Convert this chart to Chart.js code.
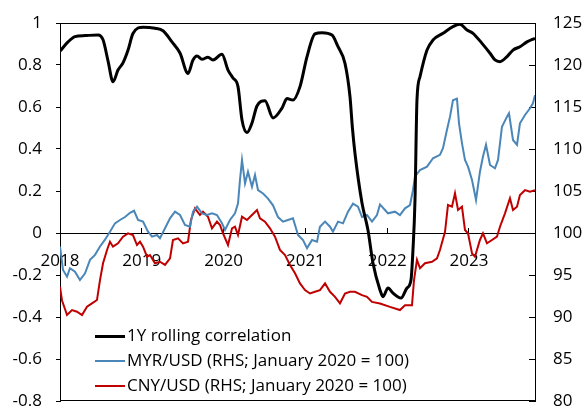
<!DOCTYPE html>
<html>
<head>
<meta charset="utf-8">
<script src="https://cdn.jsdelivr.net/npm/chart.js@4.4.1/dist/chart.umd.min.js"></script>
<style>
    body { margin: 0; background: #fff; }
    #wrap { position: relative; width: 582px; height: 410px; }
    #legend { position: absolute; left: 95px; top: 322px; font-family: "Open Sans", sans-serif; font-size: 17px; color: #000; }
    #legend div { height: 25px; line-height: 25px; white-space: nowrap; }
    #legend span.sw { display: inline-block; width: 30px; vertical-align: middle; margin-right: 2px; }
</style>
</head>
<body>
<div id="wrap">
    <canvas id="FxChart" width="582" height="410"></canvas>
    <div id="legend"></div>
</div>
<script>
// x values are decimal years
const corrDates = [2018.000, 2018.098, 2018.183, 2018.306, 2018.465, 2018.526, 2018.587, 2018.648, 2018.709, 2018.770,
    2018.831, 2018.892, 2019.015, 2019.161, 2019.259, 2019.369, 2019.467, 2019.565, 2019.626, 2019.675,
    2019.736, 2019.809, 2019.870, 2019.980, 2020.054, 2020.115, 2020.176, 2020.225, 2020.286, 2020.347,
    2020.408, 2020.506, 2020.604, 2020.714, 2020.775, 2020.848, 2020.934, 2021.020, 2021.117, 2021.203,
    2021.325, 2021.399, 2021.484, 2021.545, 2021.575, 2021.606, 2021.692, 2021.765, 2021.826, 2021.912,
    2021.949, 2022.010, 2022.071, 2022.169, 2022.242, 2022.291, 2022.315, 2022.340, 2022.364, 2022.401,
    2022.487, 2022.560, 2022.682, 2022.804, 2022.890, 2022.976, 2023.049, 2023.159, 2023.257, 2023.318,
    2023.379, 2023.465, 2023.538, 2023.623, 2023.709, 2023.807];
const corrValues = [0.866, 0.91, 0.935, 0.94, 0.943, 0.92, 0.82, 0.72, 0.776, 0.81,
    0.87, 0.95, 0.98, 0.975, 0.963, 0.91, 0.857, 0.76, 0.824, 0.843,
    0.827, 0.837, 0.824, 0.851, 0.776, 0.738, 0.697, 0.538, 0.478, 0.524,
    0.605, 0.63, 0.548, 0.595, 0.64, 0.633, 0.697, 0.84, 0.948, 0.954,
    0.943, 0.887, 0.808, 0.65, 0.50, 0.38, 0.143, 0.014, -0.143, -0.271,
    -0.303, -0.262, -0.286, -0.31, -0.262, -0.224, -0.081, 0.157, 0.633, 0.744,
    0.871, 0.919, 0.951, 0.983, 0.994, 0.967, 0.951, 0.903, 0.856, 0.824,
    0.816, 0.84, 0.871, 0.887, 0.91, 0.927];

const myrDates = [2018.000, 2018.037, 2018.086, 2018.122, 2018.183, 2018.244, 2018.306, 2018.367, 2018.428, 2018.489,
    2018.550, 2018.611, 2018.672, 2018.733, 2018.795, 2018.856, 2018.905, 2018.954, 2019.015, 2019.076,
    2019.125, 2019.186, 2019.222, 2019.284, 2019.345, 2019.406, 2019.467, 2019.528, 2019.589, 2019.626,
    2019.675, 2019.736, 2019.797, 2019.858, 2019.919, 2019.980, 2020.017, 2020.078, 2020.139, 2020.176,
    2020.200, 2020.225, 2020.262, 2020.298, 2020.347, 2020.384, 2020.421, 2020.482, 2020.543, 2020.604,
    2020.665, 2020.726, 2020.787, 2020.848, 2020.910, 2020.971, 2021.020, 2021.081, 2021.142, 2021.178,
    2021.240, 2021.301, 2021.337, 2021.399, 2021.460, 2021.521, 2021.582, 2021.643, 2021.692, 2021.753,
    2021.814, 2021.875, 2021.912, 2021.973, 2022.010, 2022.095, 2022.156, 2022.218, 2022.279, 2022.315,
    2022.340, 2022.401, 2022.487, 2022.560, 2022.645, 2022.682, 2022.731, 2022.768, 2022.804, 2022.853,
    2022.878, 2022.914, 2022.951, 2022.988, 2023.037, 2023.086, 2023.134, 2023.171, 2023.208, 2023.257,
    2023.318, 2023.355, 2023.403, 2023.465, 2023.489, 2023.538, 2023.587, 2023.623, 2023.685, 2023.746,
    2023.782, 2023.807];
const myrValues = [98.4, 95.6, 94.8, 95.8, 95.4, 94.4, 95.2, 96.8, 97.4, 98.4,
    99.2, 100.15, 101.15, 101.55, 101.9, 102.4, 102.65, 101.55, 101.35, 100.15,
    99.56, 99.76, 99.37, 100.56, 101.75, 102.54, 102.14, 100.95, 100.75, 102.54,
    103.13, 102.34, 102.14, 102.34, 102.14, 101.15, 100.36, 101.55, 102.34, 103.5,
    106.3, 108.7, 105.9, 107.3, 105.5, 106.9, 105.1, 104.7, 104.1, 103.3,
    101.9, 101.35, 101.55, 101.75, 99.76, 99.17, 98.2, 99.17, 98.96, 100.75,
    101.35, 100.75, 100.15, 101.35, 101.15, 102.54, 103.5, 103.13, 101.9, 102.14,
    101.35, 102.14, 103.4, 102.74, 102.34, 102.54, 102.14, 102.94, 103.33, 105.1,
    106.7, 107.5, 107.9, 108.9, 109.3, 110.1, 112.3, 113.85, 115.8, 116.0,
    113.06, 110.7, 108.7, 107.9, 106.3, 103.93, 107.3, 109.1, 110.5, 108.1,
    107.7, 108.7, 112.65, 113.85, 114.25, 111.07, 110.5, 113.06, 114.05, 114.85,
    115.44, 116.4];

const cnyDates = [2018.000, 2018.024, 2018.086, 2018.147, 2018.208, 2018.269, 2018.330, 2018.391, 2018.452, 2018.489,
    2018.526, 2018.575, 2018.611, 2018.648, 2018.709, 2018.770, 2018.831, 2018.892, 2018.941, 2018.978,
    2019.015, 2019.064, 2019.100, 2019.161, 2019.222, 2019.284, 2019.345, 2019.381, 2019.443, 2019.504,
    2019.565, 2019.601, 2019.650, 2019.711, 2019.748, 2019.809, 2019.858, 2019.919, 2019.956, 2019.993,
    2020.054, 2020.103, 2020.139, 2020.176, 2020.225, 2020.286, 2020.347, 2020.408, 2020.445, 2020.506,
    2020.567, 2020.628, 2020.689, 2020.751, 2020.812, 2020.873, 2020.934, 2020.995, 2021.056, 2021.117,
    2021.178, 2021.240, 2021.301, 2021.362, 2021.423, 2021.484, 2021.545, 2021.606, 2021.692, 2021.753,
    2021.814, 2021.912, 2022.034, 2022.156, 2022.218, 2022.303, 2022.328, 2022.364, 2022.401, 2022.462,
    2022.548, 2022.609, 2022.645, 2022.707, 2022.743, 2022.792, 2022.829, 2022.866, 2022.914, 2022.951,
    2022.988, 2023.037, 2023.073, 2023.134, 2023.171, 2023.220, 2023.281, 2023.342, 2023.379, 2023.440,
    2023.501, 2023.538, 2023.587, 2023.623, 2023.685, 2023.746, 2023.807];
const cnyValues = [93.6, 92.0, 90.24, 90.83, 90.63, 90.24, 91.23, 91.63, 92.02, 94.4,
    96.4, 97.98, 98.96, 98.37, 98.77, 99.56, 99.96, 99.76, 98.57, 98.96,
    98.37, 97.18, 97.38, 96.4, 96.58, 96.2, 96.98, 99.17, 99.37, 98.77,
    98.96, 101.55, 102.94, 102.14, 102.54, 101.94, 100.56, 101.35, 100.95, 99.96,
    98.57, 100.56, 100.75, 99.76, 101.94, 101.55, 102.14, 102.74, 101.75, 101.35,
    100.56, 99.56, 97.98, 97.38, 96.2, 95.2, 94.0, 93.2, 92.8, 93.0,
    93.2, 94.0, 93.0, 92.4, 91.63, 92.8, 93.0, 93.0, 92.6, 92.4,
    91.8, 91.6, 91.2, 90.83, 91.4, 91.4, 94.4, 96.8, 95.8, 96.4,
    96.58, 96.98, 97.98, 100.15, 103.33, 103.13, 104.73, 102.74, 103.13, 100.36,
    99.96, 97.58, 97.18, 99.17, 99.96, 98.77, 99.17, 99.56, 100.75, 102.34,
    104.13, 102.74, 103.13, 104.52, 105.1, 104.92, 105.1];

const yearTicks = [2018, 2019, 2020, 2021, 2022, 2023];

function toPoints(xs, ys) {
    return xs.map((x, i) => ({ x: x, y: ys[i] }));
}

const FONT = { family: "'Open Sans', sans-serif", size: 17 };

// fixed axis width, and no extra top/bottom padding from the tick labels
function fixWidth(w) {
    return (s) => {
        s.width = w;
        s.paddingTop = 0;
        s.paddingBottom = 0;
    };
}

// thin frame round the plot area (top and bottom edges)
const framePlugin = {
    id: "frame",
    afterDraw(chart) {
        const { ctx, chartArea: a } = chart;
        ctx.save();
        ctx.strokeStyle = "#000";
        ctx.lineWidth = 1;
        ctx.beginPath();
        ctx.moveTo(a.left, a.top + 0.5);
        ctx.lineTo(a.right, a.top + 0.5);
        ctx.moveTo(a.left, a.bottom - 0.5);
        ctx.lineTo(a.right, a.bottom - 0.5);
        ctx.stroke();
        ctx.restore();
    },
};

function FxChart() {
    const ctx = document.getElementById("FxChart");

    const chart = new Chart(ctx, {
        type: "line",
        data: {
            datasets: [
                {
                    label: "1Y rolling correlation",
                    data: toPoints(corrDates, corrValues),
                    borderColor: "#000000",
                    borderWidth: 3,
                    cubicInterpolationMode: "monotone",
                    pointRadius: 0,
                    yAxisID: "y",
                },
                {
                    label: "MYR/USD (RHS; January 2020 = 100)",
                    data: toPoints(myrDates, myrValues),
                    borderColor: "#4a86b8",
                    borderWidth: 2,
                    lineTension: 0,
                    pointRadius: 0,
                    yAxisID: "y1",
                },
                {
                    label: "CNY/USD (RHS; January 2020 = 100)",
                    data: toPoints(cnyDates, cnyValues),
                    borderColor: "#c00000",
                    borderWidth: 2,
                    lineTension: 0,
                    pointRadius: 0,
                    yAxisID: "y1",
                },
            ],
        },
        options: {
            responsive: false,
            animation: false,
            layout: {
                padding: { top: 23, bottom: 9, left: 0, right: 0 },
            },
            plugins: {
                legend: { display: false },
                tooltip: { enabled: false },
            },
            scales: {
                x: {
                    type: "linear",
                    position: { y: 0 },
                    min: 2018,
                    max: 2023.807,
                    afterBuildTicks: (s) => { s.ticks = yearTicks.map((v) => ({ value: v })); },
                    afterFit: (s) => { s.height = 0; },
                    ticks: {
                        font: FONT,
                        color: "#000",
                        padding: 24,
                        maxRotation: 0,
                        callback: (v) => String(v),
                    },
                    grid: {
                        drawOnChartArea: false,
                        tickLength: -6,
                        color: "#000",
                    },
                    border: { color: "#000", width: 1 },
                },
                y: {
                    position: "left",
                    min: -0.8,
                    max: 1,
                    afterFit: fixWidth(60),
                    ticks: {
                        stepSize: 0.2,
                        font: FONT,
                        color: "#000",
                        padding: 14,
                        callback: (v) => String(+v.toFixed(1)),
                    },
                    grid: {
                        drawOnChartArea: false,
                        tickLength: 4,
                        color: "#000",
                    },
                    border: { color: "#000", width: 1 },
                },
                y1: {
                    position: "right",
                    min: 80,
                    max: 125,
                    afterFit: fixWidth(47),
                    ticks: {
                        stepSize: 5,
                        font: FONT,
                        color: "#000",
                        padding: 24,
                    },
                    grid: {
                        drawOnChartArea: false,
                        tickLength: -6,
                        color: "#000",
                    },
                    border: { color: "#000", width: 1 },
                },
            },
        },
        plugins: [framePlugin],
    });

    // legend as page text, built from the datasets
    const legend = document.getElementById("legend");
    chart.data.datasets.forEach((ds) => {
        const row = document.createElement("div");
        const sw = document.createElement("span");
        sw.className = "sw";
        sw.style.borderTop = ds.borderWidth + "px solid " + ds.borderColor;
        row.appendChild(sw);
        row.appendChild(document.createTextNode(ds.label));
        legend.appendChild(row);
    });
}

FxChart();
</script>
</body>
</html>
